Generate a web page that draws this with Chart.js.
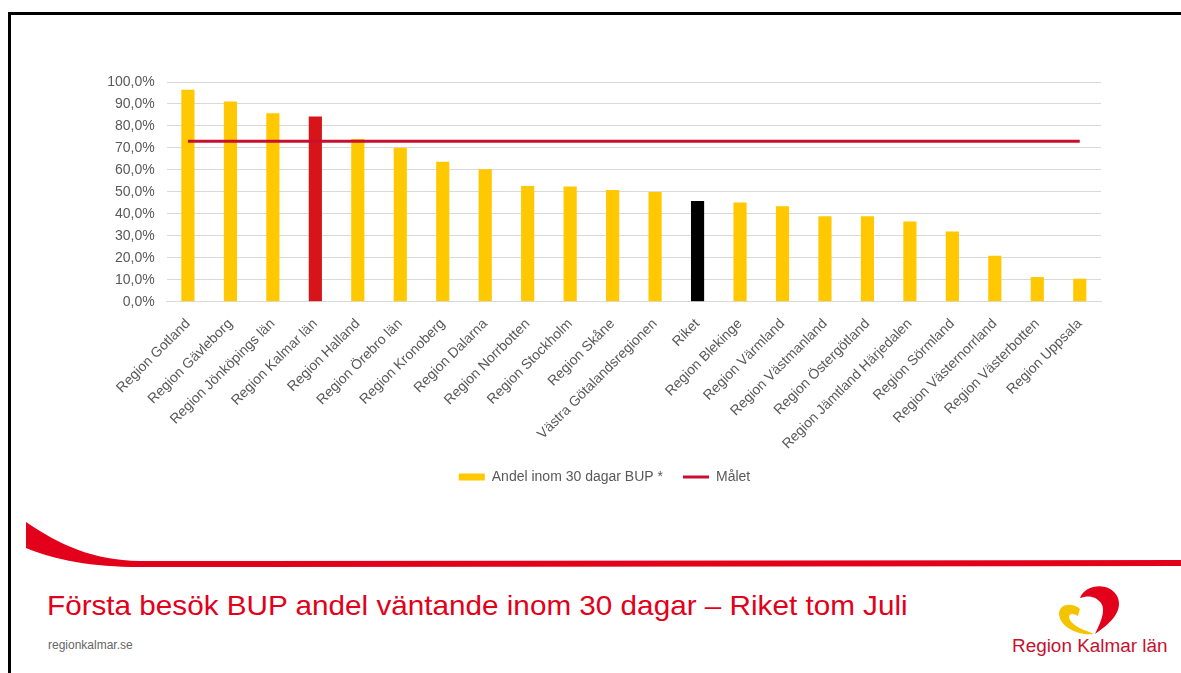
<!DOCTYPE html>
<html lang="sv">
<head>
<meta charset="utf-8">
<title>Första besök BUP andel väntande inom 30 dagar</title>
<script src="https://cdn.jsdelivr.net/npm/chart.js@4.4.1/dist/chart.umd.min.js"></script>
<style>
  body { margin: 0; background: #fff; font-family: "Liberation Sans", Arial, sans-serif; }
  .slide { position: relative; width: 1181px; height: 673px; overflow: hidden; background: #fff; }
  .frame { position: absolute; left: 8px; top: 12px; right: -10px; bottom: -10px;
    border-top: 3px solid #000; border-left: 3px solid #000; }
  #chart-wrap { position: absolute; left: 0; top: 0; width: 1181px; height: 520px; }
  .deco { position: absolute; left: 0; top: 0; }
  .title { position: absolute; left: 47px; top: 590px; font-size: 28px; color: #e2001a; white-space: nowrap;
    transform: scaleX(1.06); transform-origin: left top; }
  .site { position: absolute; left: 48px; top: 638px; font-size: 12px; color: #666; }
  .logo-text { position: absolute; left: 1012px; top: 636px; font-size: 18px; color: #c8102e; white-space: nowrap;
    transform: scaleX(1.05); transform-origin: left top; }
</style>
</head>
<body>
<div class="slide">
  <div class="frame"></div>
  <svg class="deco" width="1181" height="673">
    <path d="M26,522 C60,545 92,560 140,561 L1181,560 L1181,566 L140,567 C92,567 55,560 26,548 Z" fill="#e2001a"/>
    <path d="M1080,598 C1085,584 1111,581 1118,598 C1123,613 1108,625 1095,634 C1101,622 1106,610 1101,603 C1096,596 1088,595 1080,598 Z" fill="#e2001a"/>
    <path d="M1059,614 C1059,604 1072,602 1080,609 L1078,616 C1072,612 1067,614 1070,620 C1074,627 1085,630 1094,634 C1080,636 1060,628 1059,614 Z" fill="#f5c400"/>
  </svg>
  <div id="chart-wrap"><canvas id="bup-chart" width="1181" height="520"></canvas></div>
  <div class="title">Första besök BUP andel väntande inom 30 dagar – Riket tom Juli</div>
  <div class="site">regionkalmar.se</div>
  <div class="logo-text">Region Kalmar län</div>
</div>

<script>
"use strict"

// data
const regions = [
  "Region Gotland",
  "Region Gävleborg",
  "Region Jönköpings län",
  "Region Kalmar län",
  "Region Halland",
  "Region Örebro län",
  "Region Kronoberg",
  "Region Dalarna",
  "Region Norrbotten",
  "Region Stockholm",
  "Region Skåne",
  "Västra Götalandsregionen",
  "Riket",
  "Region Blekinge",
  "Region Värmland",
  "Region Västmanland",
  "Region Östergötland",
  "Region Jämtland Härjedalen",
  "Region Sörmland",
  "Region Västernorrland",
  "Region Västerbotten",
  "Region Uppsala",
]
const andelInom30 = [96.5, 91.1, 85.8, 84.3, 74.0, 70.1, 63.7, 60.3, 52.7, 52.4, 50.8,
  49.9, 45.8, 45.2, 43.4, 38.9, 38.9, 36.5, 31.9, 20.9, 11.2, 10.4]
const malet = [73, 73, 73, 73, 73, 73, 73, 73, 73, 73, 73,
  73, 73, 73, 73, 73, 73, 73, 73, 73, 73, 73]
const yMin = 0
const yMax = 100
const yStep = 10

const barLabel = "Andel inom 30 dagar BUP *"
const lineLabel = "Målet"

// colours
const yellow = "#ffc800"
const red = "#d7141a"
const lineRed = "#c8102e"
const textGrey = "#595959"
const highlight = { "Region Kalmar län": red, "Riket": "#000000" }
const barColors = regions.map((r) => highlight[r] || yellow)

const fontFamily = "'Liberation Sans', Arial, sans-serif"

const chartData = {
  labels: regions,
  datasets: [
    {
      type: "line",
      label: lineLabel,
      data: malet,
      borderColor: lineRed,
      backgroundColor: lineRed,
      borderWidth: 3,
      pointRadius: 0,
      fill: false,
      order: 0,
    },
    {
      type: "bar",
      label: barLabel,
      data: andelInom30,
      backgroundColor: barColors,
      borderWidth: 0,
      barPercentage: 0.31,
      categoryPercentage: 1,
      order: 1,
    },
  ],
}

const chartOptions = {
  responsive: false,
  animation: false,
  layout: {
    padding: { left: 108, right: 80, top: 82, bottom: 26 },
  },
  scales: {
    x: {
      grid: { display: false },
      border: { display: true, color: "#d9d9d9" },
      ticks: {
        autoSkip: false,
        maxRotation: 45,
        minRotation: 45,
        padding: 6,
        color: textGrey,
        font: { family: fontFamily, size: 14 },
      },
      afterFit: (scale) => {
        scale.height = 148.3
      },
    },
    y: {
      min: yMin,
      max: yMax,
      grid: { color: "#d9d9d9", drawTicks: false },
      border: { display: false },
      ticks: {
        stepSize: yStep,
        padding: 12,
        color: textGrey,
        font: { family: fontFamily, size: 14 },
        callback: (v) => v.toFixed(1).replace(".", ",") + "%",
      },
      afterFit: (scale) => {
        scale.width = 58.7
      },
    },
  },
  plugins: {
    tooltip: { enabled: false },
    legend: {
      position: "bottom",
      labels: {
        usePointStyle: true,
        pointStyleWidth: 26,
        boxHeight: 7,
        padding: 20,
        color: textGrey,
        font: { family: fontFamily, size: 14 },
        generateLabels: () => [
          { text: barLabel, fillStyle: yellow, strokeStyle: yellow, fontColor: textGrey, lineWidth: 0, pointStyle: "rect", datasetIndex: 1, hidden: false },
          { text: lineLabel, fillStyle: lineRed, strokeStyle: lineRed, fontColor: textGrey, lineWidth: 3, pointStyle: "line", datasetIndex: 0, hidden: false },
        ],
      },
    },
  },
}

const bupChart = new Chart(document.getElementById("bup-chart"), {
  data: chartData,
  options: chartOptions,
})
</script>
</body>
</html>
